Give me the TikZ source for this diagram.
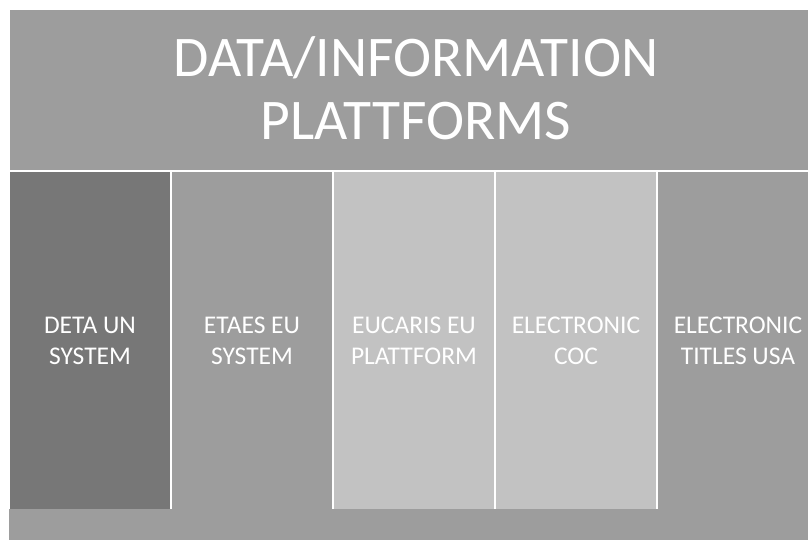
\documentclass[tikz,border=0pt]{standalone}
\usepackage{fontspec}
\setmainfont{Carlito}
\usetikzlibrary{positioning}
\definecolor{barmid}{HTML}{9D9D9D}
\definecolor{bardark}{HTML}{777777}
\definecolor{barlight}{HTML}{C2C2C2}
\tikzset{every node/.style={align=center, text=white, inner sep=0pt, outer sep=0pt},
  col/.style={draw=white, line width=2pt, minimum width=162pt, minimum height=339pt,
    anchor=north west, font=\fontsize{25.5}{31}\selectfont}}

\begin{document}
\begin{tikzpicture}[x=1pt, y=-1pt]
  \useasboundingbox[fill=white] (0,0) rectangle (808,540);
  \node [draw=white, line width=2pt, fill=barmid, minimum width=800pt, minimum height=162pt,
         anchor=north west] (title) at (9,9) {};
  \node [font=\fontsize{57.5}{63}\selectfont, xshift=7pt, yshift=2pt] (titletext) at (title.center) {DATA/INFORMATION\\PLATTFORMS};
  \node [col, fill=bardark] (deta) at (9,171) {DETA UN\\SYSTEM};
  \node [col, fill=barmid, right=0pt of deta] (etaes) {ETAES EU\\SYSTEM};
  \node [col, fill=barlight, right=0pt of etaes] (eucaris) {EUCARIS EU\\PLATTFORM};
  \node [col, fill=barlight, right=0pt of eucaris] (coc) {ELECTRONIC\\COC};
  \node [col, fill=barmid, right=0pt of coc] (titles) {ELECTRONIC\\TITLES USA};
  \node [fill=barmid, minimum width=800pt, minimum height=32pt, anchor=north west] (base) at (9,509) {};
\end{tikzpicture}
\end{document}
